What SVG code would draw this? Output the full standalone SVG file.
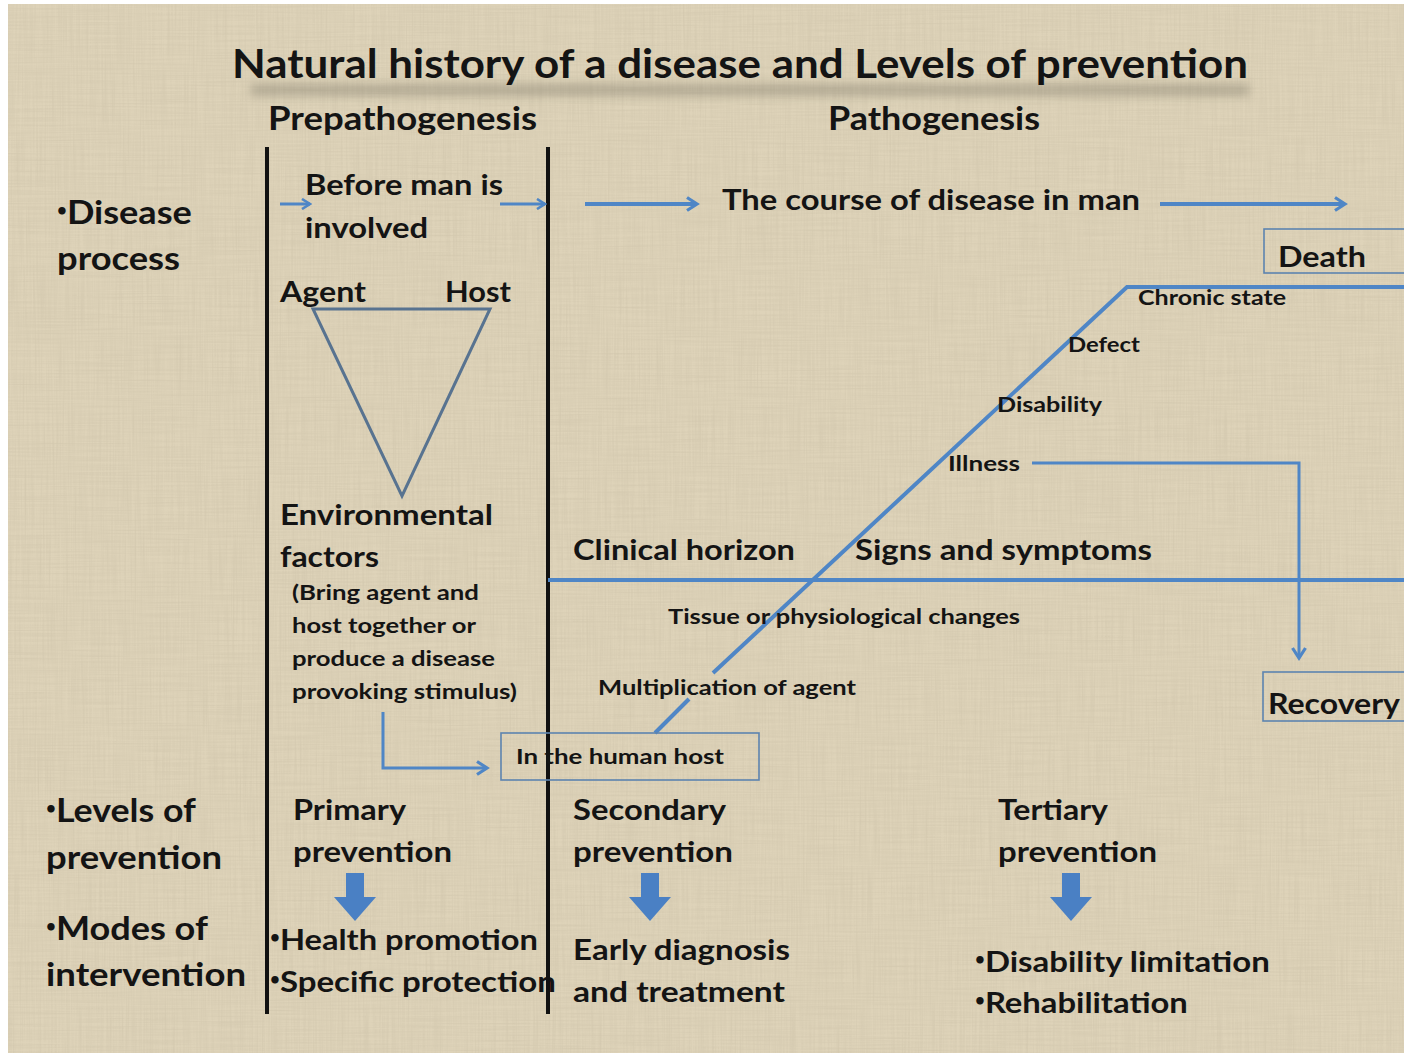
<svg xmlns="http://www.w3.org/2000/svg" width="1404" height="1057" viewBox="0 0 1404 1057">
  <defs>
    <style>
      .t { font-family: Lato, "Liberation Sans", sans-serif; font-weight: 700; fill: #141414; }
      .xl { font-size: 40px; }
      .l { font-size: 33px; }
      .m { font-size: 29px; }
      .s { font-size: 21px; }
      .b { font-size: 17px; }
      .flow { fill: none; stroke: #4f86c6; stroke-width: 4; }
      .thin { fill: none; stroke: #4f86c6; stroke-width: 3; }
      .box { fill: none; stroke: #5d84b0; stroke-width: 1.6; }
      .rule { stroke: #111; stroke-width: 4; }
      .block { fill: #4a80c4; }
    </style>
    <marker id="chev" viewBox="0 0 12 12" refX="10" refY="6" markerWidth="12" markerHeight="12" markerUnits="userSpaceOnUse" orient="auto">
      <path d="M2,1 L10,6 L2,11" fill="none" stroke="#4f86c6" stroke-width="2.6"/>
    </marker>
    <marker id="chevL" viewBox="0 0 16 16" refX="13" refY="8" markerWidth="16" markerHeight="16" markerUnits="userSpaceOnUse" orient="auto">
      <path d="M3,1.5 L13,8 L3,14.5" fill="none" stroke="#4f86c6" stroke-width="3.2"/>
    </marker>
    <filter id="linen" x="0" y="0" width="100%" height="100%">
      <feTurbulence type="fractalNoise" baseFrequency="0.6 0.015" numOctaves="2" seed="3" result="v"/>
      <feTurbulence type="fractalNoise" baseFrequency="0.015 0.6" numOctaves="2" seed="7" result="h"/>
      <feBlend in="v" in2="h" mode="multiply" result="mix"/>
      <feColorMatrix in="mix" type="matrix" values="0 0 0 0 0.48  0 0 0 0 0.42  0 0 0 0 0.30  -1.6 0 0 0 0.95" />
    </filter>
    <filter id="haze" x="-10%" y="-200%" width="120%" height="500%">
      <feGaussianBlur stdDeviation="5"/>
    </filter>
  </defs>

  <!-- paper -->
  <rect x="0" y="0" width="1404" height="1057" fill="#ffffff"/>
  <rect x="8" y="4" width="1396" height="1049" fill="#ded3b9"/>
  <rect x="8" y="4" width="1396" height="1049" filter="url(#linen)" opacity="0.35"/>

  <!-- heading with soft shadow band -->
  <rect x="250" y="84" width="1000" height="12" rx="6" fill="#6b6656" opacity="0.35" filter="url(#haze)"/>
  <g id="title">
    <text class="t xl" x="232" y="78" textLength="1016" lengthAdjust="spacingAndGlyphs">Natural history of a disease and Levels of prevention</text>
  </g>
  <g id="phase-pre"><text class="t l" x="268" y="130" textLength="269" lengthAdjust="spacingAndGlyphs">Prepathogenesis</text></g>
  <g id="phase-path"><text class="t l" x="828" y="130" textLength="212" lengthAdjust="spacingAndGlyphs">Pathogenesis</text></g>

  <!-- column rules -->
  <g id="rules">
    <line class="rule" x1="267" y1="147" x2="267" y2="1014"/>
    <line class="rule" x1="548" y1="147" x2="548" y2="1014"/>
  </g>

  <!-- row headings -->
  <g id="row-disease">
    <text class="t l" x="57" y="224"><tspan class="b" dy="-8">•</tspan><tspan dy="8" textLength="125" lengthAdjust="spacingAndGlyphs">Disease</tspan></text>
    <text class="t l" x="57" y="270" textLength="123" lengthAdjust="spacingAndGlyphs">process</text>
  </g>
  <g id="row-levels">
    <text class="t l" x="46" y="822"><tspan class="b" dy="-8">•</tspan><tspan dy="8" textLength="140" lengthAdjust="spacingAndGlyphs">Levels of</tspan></text>
    <text class="t l" x="46" y="869" textLength="176" lengthAdjust="spacingAndGlyphs">prevention</text>
  </g>
  <g id="row-modes">
    <text class="t l" x="46" y="940"><tspan class="b" dy="-8">•</tspan><tspan dy="8" textLength="152" lengthAdjust="spacingAndGlyphs">Modes of</tspan></text>
    <text class="t l" x="46" y="986" textLength="200" lengthAdjust="spacingAndGlyphs">intervention</text>
  </g>

  <!-- connectors -->
  <g id="connectors">
    <line class="thin" x1="280" y1="204" x2="310" y2="204" marker-end="url(#chev)"/>
    <line class="thin" x1="500" y1="204" x2="545" y2="204" marker-end="url(#chev)"/>
    <line class="flow" x1="585" y1="204" x2="697" y2="204" marker-end="url(#chevL)"/>
    <line class="flow" x1="1160" y1="204" x2="1345" y2="204" marker-end="url(#chevL)"/>
    <!-- course of disease: rising line and chronic plateau -->
    <polyline class="flow" points="655,733 689,699"/>
    <polyline class="flow" points="713,673 1127,287 1404,287"/>
    <!-- clinical horizon -->
    <line class="flow" x1="548" y1="580" x2="1404" y2="580"/>
    <!-- illness to recovery -->
    <polyline class="thin" points="1032,463 1299,463 1299,658" marker-end="url(#chevL)"/>
    <!-- environment into host -->
    <polyline class="thin" points="383,712 383,768 487,768" marker-end="url(#chevL)"/>
  </g>

  <g id="before-man">
    <text class="t m" x="305" y="195" textLength="198" lengthAdjust="spacingAndGlyphs">Before man is</text>
    <text class="t m" x="305" y="238" textLength="123" lengthAdjust="spacingAndGlyphs">involved</text>
  </g>
  <g id="course">
    <text class="t m" x="722" y="210" textLength="418" lengthAdjust="spacingAndGlyphs">The course of disease in man</text>
  </g>

  <!-- epidemiological triad -->
  <g id="triad">
    <polygon points="313,309 490,309 402,496" fill="none" stroke="#587390" stroke-width="3"/>
    <text class="t m" x="280" y="302" textLength="86" lengthAdjust="spacingAndGlyphs">Agent</text>
    <text class="t m" x="445" y="302" textLength="66" lengthAdjust="spacingAndGlyphs">Host</text>
  </g>
  <g id="environment">
    <text class="t m" x="280" y="525" textLength="213" lengthAdjust="spacingAndGlyphs">Environmental</text>
    <text class="t m" x="280" y="567" textLength="99" lengthAdjust="spacingAndGlyphs">factors</text>
    <text class="t s" x="292" y="600" textLength="187" lengthAdjust="spacingAndGlyphs">(Bring agent and</text>
    <text class="t s" x="292" y="633" textLength="184" lengthAdjust="spacingAndGlyphs">host together or</text>
    <text class="t s" x="292" y="666" textLength="203" lengthAdjust="spacingAndGlyphs">produce a disease</text>
    <text class="t s" x="292" y="699" textLength="225" lengthAdjust="spacingAndGlyphs">provoking stimulus)</text>
  </g>

  <g id="human-host">
    <rect class="box" x="501" y="733" width="258" height="47"/>
    <text class="t s" x="516" y="764" textLength="208" lengthAdjust="spacingAndGlyphs">In the human host</text>
  </g>

  <g id="stage-labels">
    <text class="t s" x="598" y="695" textLength="258" lengthAdjust="spacingAndGlyphs">Multiplication of agent</text>
    <text class="t s" x="668" y="624" textLength="352" lengthAdjust="spacingAndGlyphs">Tissue or physiological changes</text>
    <text class="t m" x="573" y="560" textLength="222" lengthAdjust="spacingAndGlyphs">Clinical horizon</text>
    <text class="t m" x="855" y="560" textLength="297" lengthAdjust="spacingAndGlyphs">Signs and symptoms</text>
    <text class="t s" x="948" y="471" textLength="72" lengthAdjust="spacingAndGlyphs">Illness</text>
    <text class="t s" x="997" y="412" textLength="105" lengthAdjust="spacingAndGlyphs">Disability</text>
    <text class="t s" x="1068" y="352" textLength="72" lengthAdjust="spacingAndGlyphs">Defect</text>
    <text class="t s" x="1138" y="305" textLength="148" lengthAdjust="spacingAndGlyphs">Chronic state</text>
  </g>

  <g id="death">
    <rect class="box" x="1264" y="229" width="150" height="44"/>
    <text class="t m" x="1278" y="267" textLength="88" lengthAdjust="spacingAndGlyphs">Death</text>
  </g>
  <g id="recovery">
    <rect class="box" x="1263" y="672" width="150" height="49"/>
    <text class="t m" x="1268" y="714" textLength="132" lengthAdjust="spacingAndGlyphs">Recovery</text>
  </g>

  <!-- prevention levels -->
  <g id="primary">
    <text class="t m" x="293" y="820" textLength="113" lengthAdjust="spacingAndGlyphs">Primary</text>
    <text class="t m" x="293" y="862" textLength="159" lengthAdjust="spacingAndGlyphs">prevention</text>
    <path class="block" d="M346,873 H364 V897 H376 L355,921 L334,897 H346 Z"/>
    <text class="t m" x="270" y="950"><tspan class="b" dy="-7">•</tspan><tspan dy="7" textLength="258" lengthAdjust="spacingAndGlyphs">Health promotion</tspan></text>
    <text class="t m" x="270" y="992"><tspan class="b" dy="-7">•</tspan><tspan dy="7" textLength="276" lengthAdjust="spacingAndGlyphs">Specific protection</tspan></text>
  </g>
  <g id="secondary">
    <text class="t m" x="573" y="820" textLength="153" lengthAdjust="spacingAndGlyphs">Secondary</text>
    <text class="t m" x="573" y="862" textLength="160" lengthAdjust="spacingAndGlyphs">prevention</text>
    <path class="block" d="M641,873 H659 V897 H671 L650,921 L629,897 H641 Z"/>
    <text class="t m" x="573" y="960" textLength="217" lengthAdjust="spacingAndGlyphs">Early diagnosis</text>
    <text class="t m" x="573" y="1002" textLength="212" lengthAdjust="spacingAndGlyphs">and treatment</text>
  </g>
  <g id="tertiary">
    <text class="t m" x="998" y="820" textLength="110" lengthAdjust="spacingAndGlyphs">Tertiary</text>
    <text class="t m" x="998" y="862" textLength="159" lengthAdjust="spacingAndGlyphs">prevention</text>
    <path class="block" d="M1062,873 H1080 V897 H1092 L1071,921 L1050,897 H1062 Z"/>
    <text class="t m" x="975" y="972"><tspan class="b" dy="-7">•</tspan><tspan dy="7" textLength="285" lengthAdjust="spacingAndGlyphs">Disability limitation</tspan></text>
    <text class="t m" x="975" y="1013"><tspan class="b" dy="-7">•</tspan><tspan dy="7" textLength="203" lengthAdjust="spacingAndGlyphs">Rehabilitation</tspan></text>
  </g>

  <!-- rule drawn over the clipped text edge -->
  <line class="rule" x1="548" y1="960" x2="548" y2="1014"/>
</svg>
